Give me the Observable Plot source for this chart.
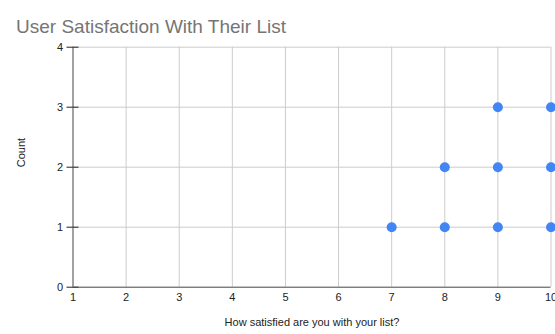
<!DOCTYPE html>
<html>
<head>
<meta charset="utf-8">
<script src="https://cdn.jsdelivr.net/npm/d3@7"></script>
<script src="https://cdn.jsdelivr.net/npm/@observablehq/plot@0.6"></script>
<style>
  html, body { margin: 0; padding: 0; background: #fff; }
  #chart svg { display: block; overflow: hidden; }
</style>
</head>
<body>
<div id="chart"></div>
<script>
const title = "User Satisfaction With Their List";
const xLabel = "How satisfied are you with your list?";
const yLabel = "Count";
const satisfaction = [7, 8, 8, 9, 9, 9, 10, 10, 10];
const count = [1, 1, 2, 1, 2, 3, 1, 2, 3];
const xTicks = [1, 2, 3, 4, 5, 6, 7, 8, 9, 10];
const yTicks = [0, 1, 2, 3, 4];

const data = satisfaction.map((s, i) => ({s, c: count[i]}));

const chart = Plot.plot({
  width: 555,
  height: 334,
  marginLeft: 72.5,
  marginRight: 4.5,
  marginTop: 46.7,
  marginBottom: 47.3,
  style: {fontFamily: "'Liberation Sans', Arial, sans-serif", fontSize: "11px", color: "#222", background: "#fff"},
  x: {domain: [1, 10]},
  y: {domain: [0, 4]},
  marks: [
    Plot.gridX(xTicks.slice(1), {stroke: "#cccccc", strokeOpacity: 1}),
    Plot.gridY(yTicks.slice(1), {stroke: "#cccccc", strokeOpacity: 1}),
    Plot.axisX(xTicks, {tickSize: 0, tickPadding: 6, tickFormat: "d", label: null, fill: "#222"}),
    Plot.axisY(yTicks, {tickSize: 12, dx: 6, tickPadding: 4, tickFormat: "d", label: null, stroke: "#222", fill: "#222"}),
    Plot.ruleX([1], {stroke: "#444"}),
    Plot.ruleY([0], {stroke: "#444"}),
    Plot.dot(data, {x: "s", y: "c", r: 5, fill: "#4285f4", stroke: null}),
    Plot.text([xLabel], {frameAnchor: "bottom", dy: 39, fill: "#222", fontSize: 11}),
    Plot.text([yLabel], {frameAnchor: "left", dx: -52, rotate: -90, fill: "#222", fontSize: 11}),
    Plot.text([title], {frameAnchor: "top-left", dx: -57, dy: -28, textAnchor: "start", fontSize: 19, fill: "#757575"})
  ]
});
document.getElementById("chart").appendChild(chart);
</script>
</body>
</html>
